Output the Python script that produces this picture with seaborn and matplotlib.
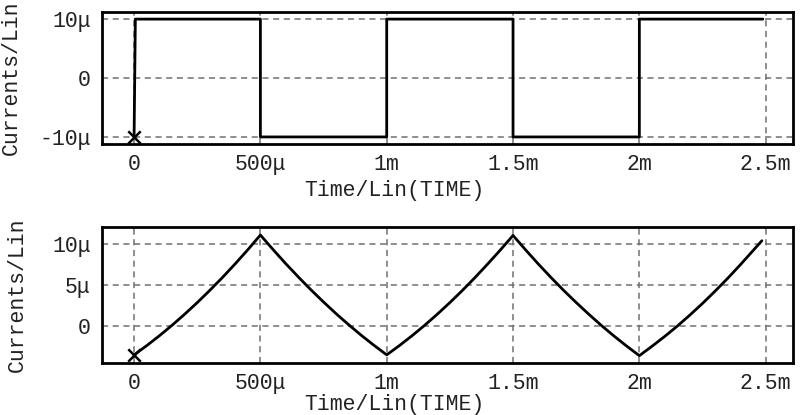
import matplotlib
matplotlib.use("Agg")
import matplotlib.pyplot as plt
import seaborn as sns

# time in ms, current in uA
square_t = [0.0, 0.005, 0.5, 0.5, 1.0, 1.0, 1.5, 1.5, 2.0, 2.0, 2.489]
square_i = [-10, 10, 10, -10, -10, 10, 10, -10, -10, 10, 10]

# lower plot, one list per ramp
rise1_t = [0.0, 0.05, 0.1, 0.15, 0.2, 0.25, 0.3, 0.35, 0.4, 0.45, 0.5]
rise1_i = [-3.6, -2.47, -1.26, 0.02, 1.38, 2.81, 4.32, 5.90, 7.56, 9.29, 11.1]
fall1_t = [0.55, 0.6, 0.65, 0.7, 0.75, 0.8, 0.85, 0.9, 0.95, 1.0]
fall1_i = [9.32, 7.60, 5.96, 4.38, 2.88, 1.44, 0.08, -1.22, -2.44, -3.6]
rise2_t = [1.05, 1.1, 1.15, 1.2, 1.25, 1.3, 1.35, 1.4, 1.45, 1.5]
rise2_i = [-2.47, -1.26, 0.02, 1.38, 2.81, 4.32, 5.90, 7.56, 9.27, 11.05]
fall2_t = [1.55, 1.6, 1.65, 1.7, 1.75, 1.8, 1.85, 1.9, 1.95, 2.0]
fall2_i = [9.27, 7.55, 5.90, 4.32, 2.82, 1.38, 0.0, -1.30, -2.53, -3.7]
rise3_t = [2.05, 2.1, 2.15, 2.2, 2.25, 2.3, 2.35, 2.4, 2.45, 2.485]
rise3_i = [-2.55, -1.35, -0.08, 1.28, 2.71, 4.22, 5.80, 7.46, 9.19, 10.4]

tri_t = rise1_t + fall1_t + rise2_t + fall2_t + rise3_t
tri_i = rise1_i + fall1_i + rise2_i + fall2_i + rise3_i

x_ticks = [0, 0.5, 1.0, 1.5, 2.0, 2.5]
x_labels = ["0", "500μ", "1m", "1.5m", "2m", "2.5m"]
top_yticks = [-10, 0, 10]
top_ylabels = ["-10μ", "0", "10μ"]
bot_yticks = [0, 5, 10]
bot_ylabels = ["0", "5μ", "10μ"]

sns.set_style("white")
plt.rcParams['font.family'] = ['Liberation Mono', 'DejaVu Sans Mono']
plt.rcParams['font.size'] = 15.5

fig = plt.figure(figsize=(8, 4.15), dpi=100)
ax1 = fig.add_axes([0.1275, 0.653, 0.864, 0.318])
ax2 = fig.add_axes([0.1275, 0.1253, 0.864, 0.328])


def style_axes(ax, yticks, ylabels, ylim, xpad, xlabel_y, ylabel_x):
    ax.set_xlim(-0.127, 2.609)
    ax.set_ylim(*ylim)
    ax.set_xticks(x_ticks)
    ax.set_xticklabels(x_labels)
    ax.set_yticks(yticks)
    ax.set_yticklabels(ylabels)
    ax.grid(True, color='#707070', linestyle=(0, (4, 3)), linewidth=1.1)
    ax.set_axisbelow(True)
    for sp in ax.spines.values():
        sp.set_visible(True)
        sp.set_color('black')
        sp.set_linewidth(2)
    ax.tick_params(axis='x', length=0, pad=xpad, colors='#222222')
    ax.tick_params(axis='y', length=0, pad=8, colors='#222222')
    ax.set_xlabel("Time/Lin(TIME)", color='#222222')
    ax.set_ylabel("Currents/Lin", color='#222222')
    ax.xaxis.set_label_coords(0.423, xlabel_y)
    ax.yaxis.set_label_coords(ylabel_x, 0.5)


sns.lineplot(x=square_t, y=square_i, ax=ax1, sort=False, estimator=None,
             color='black', linewidth=2)
sns.scatterplot(x=square_t[:1], y=square_i[:1], ax=ax1, marker='x',
                color='black', s=80, linewidth=1.8)
style_axes(ax1, top_yticks, top_ylabels, (-11.2, 11.2), 7, -0.27, -0.116)

sns.lineplot(x=tri_t, y=tri_i, ax=ax2, sort=False, estimator=None,
             color='black', linewidth=2)
sns.scatterplot(x=tri_t[:1], y=tri_i[:1], ax=ax2, marker='x',
                color='black', s=80, linewidth=1.8)
style_axes(ax2, bot_yticks, bot_ylabels, (-4.6, 12.1), 7.5, -0.226, -0.107)

fig.savefig("out.png", dpi=100)
